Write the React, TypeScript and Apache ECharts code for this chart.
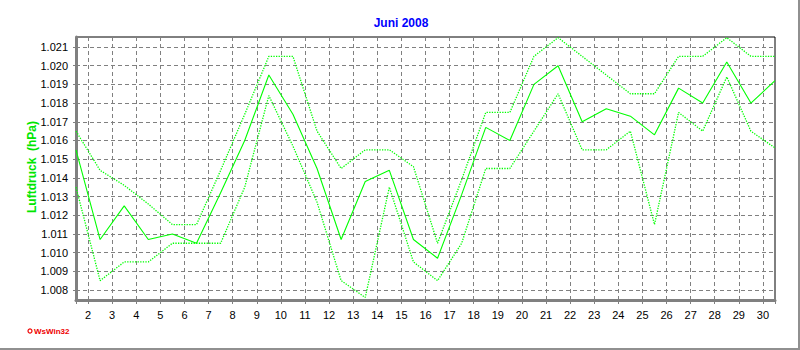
import React, { useEffect, useRef } from 'react';
import * as echarts from 'echarts';

const titleText = 'Juni 2008';
const yAxisName = 'Luftdruck  (hPa)';
const logoText = 'WsWin32';

const days = [
  1, 2, 3, 4, 5, 6, 7, 8, 9, 10, 11, 12, 13, 14, 15,
  16, 17, 18, 19, 20, 21, 22, 23, 24, 25, 26, 27, 28, 29, 30,
];

// hPa
const meanValues = [
  1015.5, 1010.7, 1012.5, 1010.7, 1011.0, 1010.5, 1013.2, 1016.0, 1019.5, 1017.4,
  1014.5, 1010.7, 1013.8, 1014.4, 1010.7, 1009.7, 1013.1, 1016.7, 1016.0, 1019.0,
  1020.0, 1017.0, 1017.7, 1017.3, 1016.3, 1018.8, 1018.0, 1020.2, 1018.0, 1019.2,
];

const maxValues = [
  1016.5, 1014.4, 1013.6, 1012.6, 1011.5, 1011.5, 1014.4, 1017.4, 1020.5, 1020.5,
  1016.5, 1014.5, 1015.5, 1015.5, 1014.6, 1010.5, 1013.9, 1017.5, 1017.5, 1020.5,
  1021.5, 1020.5, 1019.5, 1018.5, 1018.5, 1020.5, 1020.5, 1021.5, 1020.5, 1020.5,
];

const minValues = [
  1013.5, 1008.5, 1009.5, 1009.5, 1010.5, 1010.5, 1010.5, 1013.5, 1018.4, 1015.7,
  1012.7, 1008.5, 1007.6, 1013.5, 1009.5, 1008.5, 1010.5, 1014.5, 1014.5, 1016.5,
  1018.5, 1015.5, 1015.5, 1016.5, 1011.5, 1017.5, 1016.5, 1019.4, 1016.5, 1015.6,
];

const FONT = 'Arial, "Liberation Sans", sans-serif';
const LINE_GREEN = '#00ff00';
const GRID_GRAY = '#808080';

export default function App() {
  const ref = useRef<HTMLDivElement>(null);

  useEffect(() => {
    if (!ref.current) return;
    const chart = echarts.init(ref.current, null, { renderer: 'svg' });
    const toPairs = (vals: number[]) => vals.map((v, i) => [days[i] + 0.5, v]);

    chart.setOption({
      animation: false,
      backgroundColor: '#ffffff',
      grid: {
        left: 76,
        right: 25,
        top: 37,
        bottom: 50,
        containLabel: false,
        outerBoundsMode: 'none',
        show: true,
        borderColor: '#000000',
        borderWidth: 1,
        backgroundColor: 'transparent',
      },
      xAxis: {
        type: 'value',
        min: 1.5,
        max: 30.5,
        splitNumber: 29,
        minInterval: 1,
        maxInterval: 1,
        axisLine: { show: true, onZero: false, lineStyle: { color: GRID_GRAY, width: 3 } },
        axisTick: { show: true, length: 4, lineStyle: { color: GRID_GRAY, width: 1 } },
        minorTick: { show: true, splitNumber: 4, length: 2, lineStyle: { color: GRID_GRAY, width: 1 } },
        axisLabel: {
          show: true,
          margin: 9,
          color: '#000000',
          fontFamily: FONT,
          fontSize: 11,
          showMinLabel: false,
          showMaxLabel: false,
          formatter: (v: number) => (Math.abs(v - Math.round(v)) < 1e-6 ? String(Math.round(v)) : ''),
        },
        splitLine: {
          show: true,
          showMinLine: false,
          showMaxLine: false,
          lineStyle: { color: GRID_GRAY, width: 1, type: [4, 3] },
        },
      },
      yAxis: {
        type: 'value',
        min: 1007.465,
        max: 1021.535,
        splitNumber: 14,
        minInterval: 1,
        maxInterval: 1,
        axisLine: { show: true, onZero: false, lineStyle: { color: GRID_GRAY, width: 3 } },
        axisTick: { show: true, length: 3, lineStyle: { color: GRID_GRAY, width: 1 } },
        axisLabel: {
          show: true,
          margin: 8,
          color: '#000000',
          fontFamily: FONT,
          fontSize: 11,
          showMinLabel: false,
          showMaxLabel: false,
          formatter: (v: number) => {
            if (Math.abs(v - Math.round(v)) > 1e-6) return '';
            const s = String(Math.round(v));
            return s.slice(0, 1) + '.' + s.slice(1);
          },
        },
        splitLine: {
          show: true,
          showMinLine: false,
          showMaxLine: false,
          lineStyle: { color: GRID_GRAY, width: 1, type: [4, 3] },
        },
      },
      series: [
        {
          name: 'max',
          type: 'line',
          data: toPairs(maxValues),
          showSymbol: false,
          symbol: 'none',
          lineStyle: { color: LINE_GREEN, width: 1.3, type: [1.3, 1.3] },
          z: 3,
        },
        {
          name: 'min',
          type: 'line',
          data: toPairs(minValues),
          showSymbol: false,
          symbol: 'none',
          lineStyle: { color: LINE_GREEN, width: 1.3, type: [1.3, 1.3] },
          z: 3,
        },
        {
          name: 'mean',
          type: 'line',
          data: toPairs(meanValues),
          showSymbol: false,
          symbol: 'none',
          lineStyle: { color: LINE_GREEN, width: 1.1 },
          z: 4,
        },
      ],
      graphic: [
        {
          type: 'text',
          x: 401,
          y: 23,
          style: {
            text: titleText,
            fill: '#0000ff',
            font: 'bold 12px ' + FONT,
            align: 'center',
            verticalAlign: 'middle',
          },
        },
        {
          type: 'text',
          x: 32,
          y: 167,
          rotation: Math.PI / 2,
          style: {
            text: yAxisName,
            fill: '#00e600',
            font: 'bold 12px ' + FONT,
            align: 'center',
            verticalAlign: 'middle',
          },
        },
        {
          type: 'circle',
          shape: { cx: 30, cy: 331, r: 2 },
          style: { fill: '#ffffff', stroke: '#ee0000', lineWidth: 1.2 },
        },
        {
          type: 'text',
          x: 34,
          y: 331,
          style: {
            text: logoText,
            fill: '#ee0000',
            font: 'bold 8px ' + FONT,
            align: 'left',
            verticalAlign: 'middle',
          },
        },
        {
          type: 'line',
          shape: { x1: 0, y1: 349, x2: 800, y2: 349 },
          style: { stroke: '#909090', lineWidth: 2 },
        },
        {
          type: 'line',
          shape: { x1: 799, y1: 0, x2: 799, y2: 350 },
          style: { stroke: '#909090', lineWidth: 2 },
        },
      ],
    });

    return () => chart.dispose();
  }, []);

  return (
    <div
      ref={ref}
      style={{ position: 'absolute', left: 0, top: 0, width: 800, height: 350 }}
    />
  );
}
